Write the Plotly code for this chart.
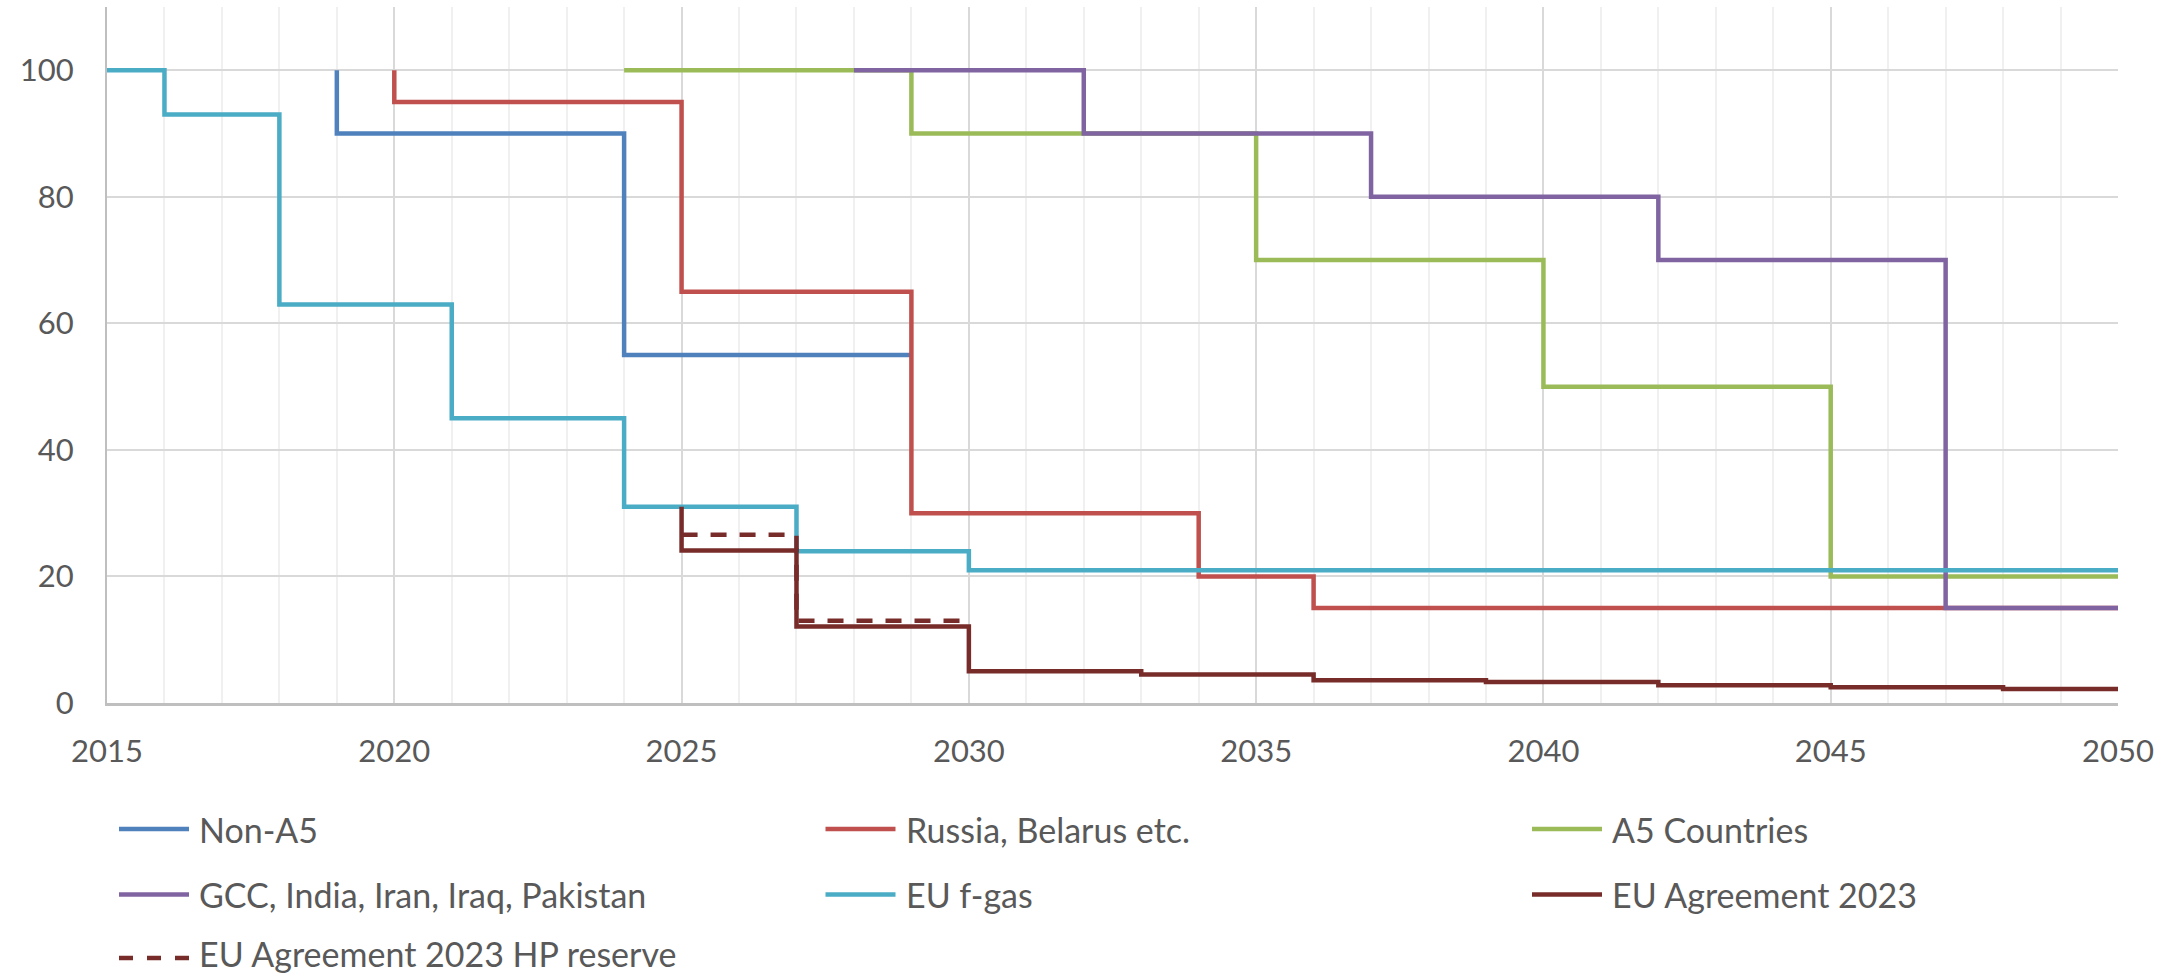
import plotly.graph_objects as go

# ---------------- data ----------------
non_a5_years = [2019, 2019, 2024, 2029]
non_a5_vals = [100, 90, 55, 55]

russia_years = [2020, 2020, 2025, 2029, 2034, 2036, 2050]
russia_vals = [100, 95, 65, 30, 20, 15, 15]

a5_years = [2024, 2029, 2035, 2040, 2045, 2050]
a5_vals = [100, 90, 70, 50, 20, 20]

gcc_years = [2028, 2032, 2037, 2042, 2047, 2050]
gcc_vals = [100, 90, 80, 70, 15, 15]

eu_fgas_years = [2015, 2016, 2018, 2021, 2024, 2027, 2030, 2050]
eu_fgas_vals = [100, 93, 63, 45, 31, 24, 21, 21]

eu_agr_years = [2025, 2025, 2027, 2030, 2033, 2036, 2039, 2042, 2045, 2048, 2050]
eu_agr_vals = [31, 24.1, 12.1, 5.0, 4.5, 3.6, 3.3, 2.8, 2.5, 2.2, 2.2]

hp_years = [2025, 2027, 2030]
hp_vals = [26.6, 13.0, 13.0]

series_names = [
    "Non-A5", "Russia, Belarus etc.", "A5 Countries",
    "GCC, India, Iran, Iraq, Pakistan", "EU f-gas", "EU Agreement 2023",
    "EU Agreement 2023 HP reserve",
]
series_colors = ["#4F81BD", "#C0504D", "#9BBB59", "#8064A2", "#4BACC6", "#772C2A", "#772C2A"]
series_dash = ["solid"] * 6 + ["16px,13px"]

x_ticks = [2015, 2020, 2025, 2030, 2035, 2040, 2045, 2050]
y_ticks = [0, 20, 40, 60, 80, 100]

series_data = [
    (non_a5_years, non_a5_vals), (russia_years, russia_vals), (a5_years, a5_vals),
    (gcc_years, gcc_vals), (eu_fgas_years, eu_fgas_vals), (eu_agr_years, eu_agr_vals),
    (hp_years, hp_vals),
]

# ---------------- figure ----------------
W, H = 2182, 977
L, R, T, B = 107, 64, 7, 274
FONT = "Lato"
TXT = "#595959"

fig = go.Figure()
for (xs, ys), name, col, dash in zip(series_data, series_names, series_colors, series_dash):
    fig.add_trace(go.Scatter(
        x=xs, y=ys, name=name, mode="lines", line_shape="hv",
        line=dict(color=col, width=4.5, dash=dash), showlegend=False,
    ))

# manual legend (3 columns) in pixel-derived paper coordinates
pw, ph = W - L - R, H - T - B
def px_x(p):
    return (p - L) / pw
def px_y(p):
    return (H - B - p) / ph

col_x = [119, 825.5, 1532]
row_y = [829, 894.5, 958]
sample_len = 70
text_gap = 78
for i, (name, col, dash) in enumerate(zip(series_names, series_colors, series_dash)):
    r, c = divmod(i, 3)
    x0 = col_x[c]
    yy = row_y[r]
    fig.add_shape(type="line", xref="paper", yref="paper",
                  x0=px_x(x0), x1=px_x(x0 + sample_len), y0=px_y(yy), y1=px_y(yy),
                  line=dict(color=col, width=4.5,
                            dash=("14px,14px" if dash != "solid" else "solid")))
    if r == 2:
        fig.add_annotation(xref="paper", yref="paper", x=px_x(x0 + text_gap), y=px_y(976),
                           xanchor="left", yanchor="bottom", showarrow=False, text=name,
                           font=dict(family=FONT, size=34, color=TXT))
    else:
        fig.add_annotation(xref="paper", yref="paper", x=px_x(x0 + text_gap), y=px_y(yy),
                           xanchor="left", yanchor="middle", showarrow=False, text=name,
                           font=dict(family=FONT, size=34, color=TXT))

fig.update_layout(
    width=W, height=H,
    margin=dict(l=L, r=R, t=T, b=B, pad=0),
    paper_bgcolor="white", plot_bgcolor="white",
    font=dict(family=FONT, size=31, color=TXT),
    showlegend=False,
)
fig.update_xaxes(
    range=[2015, 2050], tickmode="array", tickvals=x_ticks, ticktext=[str(v) for v in x_ticks],
    showgrid=True, gridcolor="#d9d9d9", gridwidth=2,
    minor=dict(dtick=1, showgrid=True, gridcolor="#f0f0f0", gridwidth=2, tick0=2015),
    showline=True, linecolor="#bfbfbf", linewidth=3,
    zeroline=False, ticks="", ticklabelstandoff=19,
    tickfont=dict(family=FONT, size=31, color=TXT),
)
fig.update_yaxes(
    range=[0, 110], tickmode="array", tickvals=y_ticks,
    showgrid=True, gridcolor="#d9d9d9", gridwidth=2,
    showline=True, linecolor="#bfbfbf", linewidth=2,
    zeroline=False, ticks="", ticklabelstandoff=25,
    tickfont=dict(family=FONT, size=31, color=TXT),
)

fig.write_html("out.html")
